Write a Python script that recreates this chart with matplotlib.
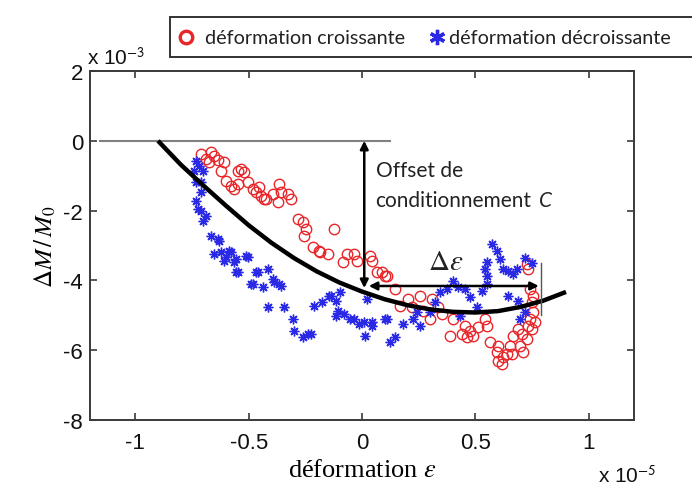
import matplotlib
matplotlib.use("Agg")
import matplotlib.pyplot as plt
from matplotlib.patches import Rectangle
from matplotlib.lines import Line2D

# ---------------- data (strain in 1e-5, dM/M0 in 1e-3) ----------------
red_x = [-0.666, -0.653, -0.688, -0.675, -0.635, -0.611, -0.624, -0.534, -0.547, -0.600,
         -0.578, -0.547, -0.565, -0.503, -0.481, -0.455, -0.468, -0.446, -0.424, -0.367,
         -0.393, -0.358, -0.328, -0.314, -0.371, -0.284, -0.262, -0.248, -0.257, -0.125,
         -0.218, -0.191, -0.152, -0.064, -0.037, 0.037, -0.710, -0.521, -0.433, -0.086,
         -0.020, 0.068, 0.112, 0.147, -0.187, 0.042, 0.090, 0.103, 0.204, 0.169,
         0.257, 0.310, 0.222, 0.270, 0.336, 0.354, 0.402, 0.301, 0.455, 0.477,
         0.442, 0.389, 0.464, 0.490, 0.543, 0.552, 0.565, 0.600, 0.596, 0.600,
         0.622, 0.640, 0.618, 0.653, 0.666, 0.688, 0.705, 0.697, 0.727, 0.732,
         0.741, 0.754, 0.749, 0.754, 0.741, 0.727, 0.732, 0.763, 0.749, 0.710,
         0.662, 0.512]
red_y = [-0.32, -0.44, -0.52, -0.61, -0.55, -0.61, -0.87, -0.81, -0.87, -1.15,
         -1.30, -1.24, -1.38, -1.18, -1.38, -1.32, -1.47, -1.58, -1.67, -1.24,
         -1.52, -1.47, -1.52, -1.67, -1.75, -2.24, -2.33, -2.53, -2.73, -2.53,
         -3.04, -3.16, -3.24, -3.24, -3.24, -3.30, -0.38, -0.89, -1.67, -3.47,
         -3.44, -3.76, -3.87, -4.25, -3.19, -3.44, -3.76, -3.87, -4.53, -4.73,
         -4.45, -4.53, -4.76, -4.88, -4.76, -4.96, -5.10, -5.10, -5.31, -5.45,
         -5.54, -5.59, -5.62, -5.59, -5.10, -5.31, -5.76, -5.88, -6.05, -6.30,
         -6.20, -6.10, -6.40, -5.88, -5.59, -5.39, -5.54, -5.88, -5.68, -5.31,
         -5.10, -4.91, -4.62, -4.45, -4.25, -3.53, -3.67, -5.19, -5.39, -6.05,
         -6.11, -5.34]

blue_x = [-0.732, -0.719, -0.741, -0.701, -0.732, -0.710, -0.732, -0.710, -0.688, -0.701,
          -0.666, -0.635, -0.624, -0.587, -0.710, -0.723, -0.631, -0.653, -0.600, -0.556,
          -0.503, -0.556, -0.468, -0.481, -0.389, -0.358, -0.415, -0.345, -0.305, -0.301,
          -0.262, -0.226, -0.213, -0.178, -0.138, -0.095, -0.108, -0.081, -0.037, 0.007,
          0.024, 0.042, 0.015, 0.112, 0.147, 0.125, -0.578, -0.611, -0.565, -0.512,
          -0.547, -0.459, -0.415, -0.490, -0.437, -0.393, -0.367, -0.240, -0.147, -0.116,
          -0.116, -0.051, -0.015, 0.046, 0.103, 0.182, 0.226, 0.257, 0.244, 0.301,
          0.323, 0.345, 0.376, 0.402, 0.424, 0.455, 0.433, 0.477, 0.508, 0.530,
          0.552, 0.552, 0.543, 0.552, 0.574, 0.596, 0.609, 0.622, 0.644, 0.666,
          0.684, 0.644, 0.688, 0.719, 0.697, 0.720, 0.750]
blue_y = [-0.58, -0.72, -0.87, -0.87, -1.18, -1.47, -1.72, -2.01, -2.15, -2.30,
          -2.73, -2.81, -3.19, -3.16, -1.18, -1.95, -2.87, -3.24, -3.33, -3.38,
          -3.33, -3.76, -3.76, -4.10, -4.05, -4.16, -4.76, -4.76, -5.10, -5.45,
          -5.62, -5.54, -4.73, -4.62, -4.45, -4.33, -4.88, -4.96, -5.10, -5.19,
          -4.53, -5.31, -5.59, -5.10, -5.62, -5.76, -3.19, -3.44, -3.47, -3.30,
          -3.76, -3.76, -3.67, -4.10, -4.19, -3.96, -4.10, -5.54, -4.45, -4.59,
          -5.02, -5.10, -5.25, -5.19, -5.10, -5.25, -5.10, -5.31, -4.91, -4.91,
          -4.62, -4.33, -4.25, -4.01, -4.19, -4.25, -5.02, -4.48, -4.76, -4.30,
          -4.10, -3.87, -3.67, -3.47, -2.96, -3.16, -3.38, -3.67, -3.73, -3.82,
          -3.67, -4.45, -4.59, -4.91, -5.10, -3.35, -3.50]

# fitted (black) curve
curve_x = [-0.90, -0.80, -0.70, -0.60, -0.50, -0.40, -0.30, -0.20, -0.10, 0.00,
           0.10, 0.20, 0.30, 0.40, 0.50, 0.60, 0.70, 0.80, 0.90]
curve_y = [0.00, -0.68, -1.28, -1.86, -2.42, -2.92, -3.36, -3.74, -4.06, -4.32,
           -4.54, -4.71, -4.83, -4.90, -4.92, -4.88, -4.76, -4.58, -4.33]

x_ticks = [-1, -0.5, 0, 0.5, 1]
x_ticklabels = ["-1", "-0.5", "0", "0.5", "1"]
y_ticks = [-8, -6, -4, -2, 0, 2]
y_ticklabels = ["-8", "-6", "-4", "-2", "0", "2"]

legend_labels = ["déformation croissante", "déformation décroissante"]

# ---------------- figure ----------------
plt.rcParams["font.family"] = ["Liberation Sans", "DejaVu Sans"]
plt.rcParams["mathtext.fontset"] = "stix"
fig = plt.figure(figsize=(6.92, 4.89), dpi=100)
ax = fig.add_axes([90 / 692, 1 - 421 / 489, (634 - 90) / 692, (421 - 72) / 489])

ax.set_xlim(-1.2, 1.2)
ax.set_ylim(-8, 2)

spine_col = "#3a3a3a"
for s in ax.spines.values():
    s.set_color(spine_col)
    s.set_linewidth(1.4)
ax.tick_params(direction="in", length=5, width=1.2, color=spine_col,
               top=True, right=True, labelsize=16, labelcolor="#111111")
ax.tick_params(axis="x", pad=9)
ax.tick_params(axis="y", pad=5)
ax.set_xticks(x_ticks)
ax.set_xticklabels(x_ticklabels)
ax.set_yticks(y_ticks)
ax.set_yticklabels(y_ticklabels)

# reference zero line
ax.plot([-1.158, 0.125], [0, 0], color="#808080", lw=1.5, zorder=1)

# scatter
ax.plot(red_x, red_y, linestyle="none", marker="o", markersize=7.5,
        markerfacecolor="none", markeredgecolor="#e8262a", markeredgewidth=1.0, zorder=3)
ax.plot(blue_x, blue_y, linestyle="none", marker=(8, 2, 0), markersize=7,
        color="#2a2ae6", markeredgewidth=1.0, zorder=3)

# fitted curve
ax.plot(curve_x, curve_y, color="black", lw=3.2, solid_capstyle="butt", zorder=4)

# annotations
ax.annotate("", xy=(0.01, -4.22), xytext=(0.01, 0.0),
            arrowprops=dict(arrowstyle="<|-|>", color="black", lw=1.8,
                            mutation_scale=12, shrinkA=0, shrinkB=0), zorder=5)
ax.annotate("", xy=(0.78, -4.16), xytext=(0.03, -4.16),
            arrowprops=dict(arrowstyle="<|-|>", color="black", lw=1.8,
                            mutation_scale=12, shrinkA=0, shrinkB=0), zorder=5)
ax.plot([0.79, 0.79], [-3.5, -5.0], color="#555555", lw=1.0, zorder=5)

ann_font = ["Lato", "DejaVu Sans"]
ax.text(0.06, -0.83, "Offset de", fontsize=15, family=ann_font,
        ha="left", va="center", color="#222222")
t_cond = ax.text(0.06, -1.70, "conditionnement", fontsize=15, family=ann_font,
                 ha="left", va="center", color="#222222")
ax.annotate("C", xy=(1.0, 0.5), xycoords=t_cond, xytext=(5, 0),
            textcoords="offset points", fontsize=15, family=ann_font,
            style="italic", ha="left", va="center", color="#222222")
ax.text(0.37, -3.45, r"$\Delta\varepsilon$", fontsize=21, ha="center", va="center",
        color="#222222")

# multiplier texts
ax.text(-0.005, 1.01, r"x 10$^{\mathsf{-3}}$", transform=ax.transAxes,
        fontsize=15, ha="left", va="bottom", color="#111111")
fig.text(598 / 692, 1 - 487 / 489, r"x 10$^{\mathsf{-5}}$",
         fontsize=15, ha="left", va="bottom", color="#111111")

# axis labels
ax.set_xlabel("déformation $\\varepsilon$", fontsize=19, family=["Liberation Serif"],
              labelpad=4)
ax.set_ylabel(r"$\Delta M\,/\,M_0$", fontsize=18, labelpad=4)

# legend box (extends beyond the right edge)
fig.patches.append(Rectangle((170 / 692, 1 - 58 / 489), 0.8, 40 / 489,
                             transform=fig.transFigure, facecolor="white",
                             edgecolor="#333333", lw=1.4))
fig.lines.append(Line2D([186 / 692], [1 - 38 / 489], transform=fig.transFigure,
                        marker="o", markersize=9, markerfacecolor="none",
                        markeredgecolor="#e8262a", markeredgewidth=2.4, linestyle="none"))
fig.text(205 / 692, 1 - 38 / 489, legend_labels[0], fontsize=14.2,
         family=ann_font, va="center", ha="left", color="#222222")
fig.lines.append(Line2D([437 / 692], [1 - 38 / 489], transform=fig.transFigure,
                        marker=(6, 2, 0), markersize=11, color="#2a2ae6",
                        markeredgewidth=2.4, linestyle="none"))
fig.text(449 / 692, 1 - 38 / 489, legend_labels[1], fontsize=14.2,
         family=ann_font, va="center", ha="left", color="#222222")

fig.savefig("out.png", dpi=100)
